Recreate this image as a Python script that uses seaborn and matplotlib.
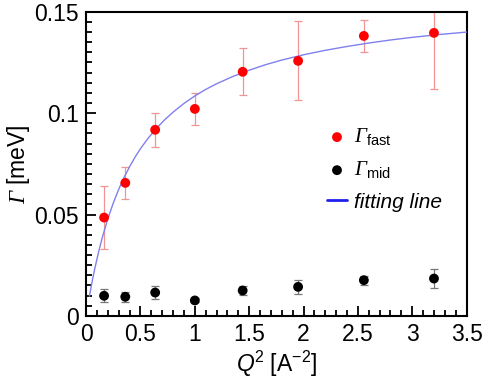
import matplotlib
matplotlib.use("Agg")
import matplotlib.pyplot as plt
from matplotlib.ticker import MultipleLocator
import seaborn as sns
import pandas as pd

# Q^2 values (A^-2)
q2 = [0.165, 0.36, 0.635, 1.0, 1.44, 1.95, 2.555, 3.2]
gamma_fast = [0.0485, 0.0656, 0.0918, 0.1021, 0.1204, 0.1258, 0.1381, 0.1396]
gamma_fast_err = [0.0155, 0.008, 0.0085, 0.0078, 0.0115, 0.0195, 0.0079, 0.0278]
gamma_mid = [0.0099, 0.0094, 0.0115, 0.0076, 0.0125, 0.0143, 0.0176, 0.0184]
gamma_mid_err = [0.0032, 0.0025, 0.003, 0.001, 0.0022, 0.0035, 0.0022, 0.0046]

# fitting line
fit_q2 = [0.03, 0.04, 0.06, 0.08, 0.1, 0.12, 0.15, 0.2, 0.25, 0.3, 0.35,
          0.4, 0.45, 0.5, 0.57, 0.65, 0.72, 0.8, 0.9, 1.0, 1.1, 1.2, 1.35,
          1.5, 1.65, 1.8, 2.0, 2.2, 2.4, 2.6, 2.8, 3.0, 3.25, 3.5]
fit_gamma = [0.0097, 0.0126, 0.0183, 0.0234, 0.0282, 0.0327, 0.0389, 0.048,
             0.0557, 0.0625, 0.0684, 0.0736, 0.0783, 0.0825, 0.0876, 0.0927,
             0.0966, 0.1005, 0.1048, 0.1085, 0.1117, 0.1145, 0.1181, 0.1212,
             0.1239, 0.1262, 0.1288, 0.131, 0.1329, 0.1346, 0.1361, 0.1374,
             0.1388, 0.14]

sns.set_theme(style="ticks")
plt.rcParams["font.family"] = ["Liberation Sans", "DejaVu Sans"]
plt.rcParams["mathtext.fontset"] = "custom"
plt.rcParams["mathtext.rm"] = "Liberation Sans"
plt.rcParams["mathtext.cal"] = "Liberation Serif:italic"
plt.rcParams["mathtext.sf"] = "Liberation Sans:italic"
plt.rcParams["text.color"] = "black"
plt.rcParams["axes.labelcolor"] = "black"

df = pd.DataFrame({"q2": q2, "fast": gamma_fast, "mid": gamma_mid})
fit = pd.DataFrame({"q2": fit_q2, "gamma": fit_gamma})

fig = plt.figure(figsize=(4.84, 3.81), dpi=100)
ax = fig.add_axes([0.178, 0.171, 0.786, 0.798])

ax.errorbar(q2, gamma_fast, yerr=gamma_fast_err, fmt="none",
            ecolor="#f29494", elinewidth=0.9, capsize=3, capthick=0.9, zorder=2)
ax.errorbar(q2, gamma_mid, yerr=gamma_mid_err, fmt="none",
            ecolor="#777777", elinewidth=0.9, capsize=3, capthick=0.9, zorder=2)
sns.lineplot(fit, x="q2", y="gamma", ax=ax, color="#8080ee", lw=1.0,
             label="fitting line", zorder=3)
sns.scatterplot(df, x="q2", y="fast", ax=ax, color="#ff0000", s=50,
                edgecolor="none", label=r"$\mathcal{\Gamma}_{\mathrm{fast}}$", zorder=4)
sns.scatterplot(df, x="q2", y="mid", ax=ax, color="black", s=50,
                edgecolor="none", label=r"$\mathcal{\Gamma}_{\mathrm{mid}}$", zorder=4)

ax.set_xlim(0, 3.5)
ax.set_ylim(0, 0.15)
ax.xaxis.set_minor_locator(MultipleLocator(0.1))
ax.yaxis.set_minor_locator(MultipleLocator(0.005))
ax.set_xticks([0, 0.5, 1, 1.5, 2, 2.5, 3, 3.5])
ax.set_xticklabels(["0", "0.5", "1", "1.5", "2", "2.5", "3", "3.5"])
ax.set_yticks([0, 0.05, 0.1, 0.15])
ax.set_yticklabels(["0", "0.05", "0.1", "0.15"])
ax.tick_params(which="both", direction="in", top=False, right=False,
               labelsize=16.5, colors="black")
ax.tick_params(which="major", length=7, width=1.3, pad=5)
ax.tick_params(which="minor", length=4, width=1.3)
for s in ax.spines.values():
    s.set_linewidth(1.5)
    s.set_color("black")

ax.set_xlabel(r"$\mathsf{Q}^{2}$ [A$^{-2}$]", fontsize=16.5, labelpad=2)
ax.set_ylabel(r"$\mathcal{\Gamma}$ [meV]", fontsize=16.5, labelpad=2)

handles, labels = ax.get_legend_handles_labels()
order = [1, 2, 0]
leg = ax.legend([handles[i] for i in order], [labels[i] for i in order],
                loc="upper left", bbox_to_anchor=(0.636, 0.717),
                bbox_transform=fig.transFigure, frameon=False, fontsize=15,
                handlelength=1.0, handletextpad=0.3, labelspacing=0.55)
leg.get_texts()[2].set_fontstyle("italic")
leg.legend_handles[2].set_color("#2020ee")
leg.legend_handles[2].set_linewidth(2)

plt.savefig("out.png", dpi=100)
